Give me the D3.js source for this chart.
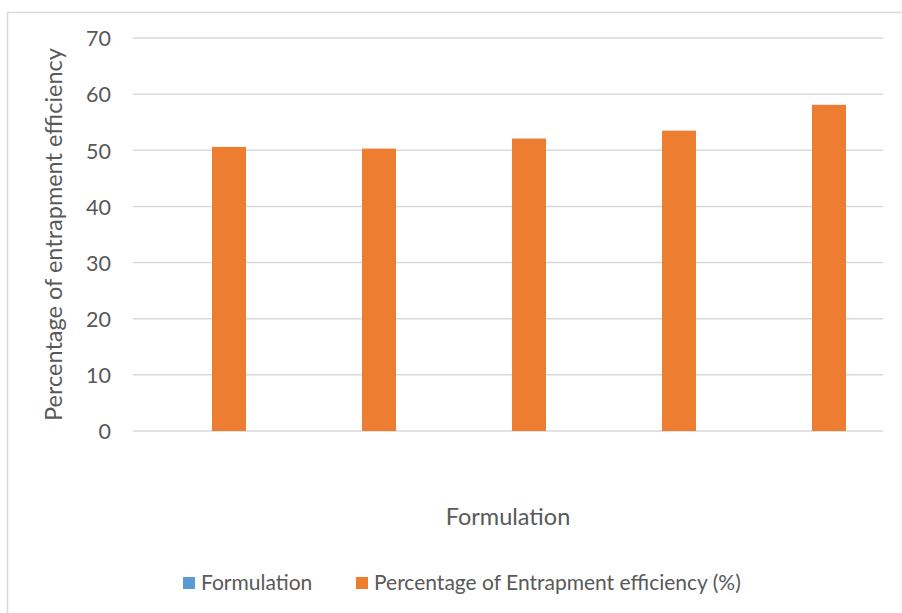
<!DOCTYPE html>
<html>
<head>
<meta charset="utf-8">
<script src="https://cdn.jsdelivr.net/npm/d3@7"></script>
<style>
  html, body { margin: 0; padding: 0; background: #fff; }
  svg { display: block; font-family: Lato, "Liberation Sans", sans-serif; }
</style>
</head>
<body>
<svg id="chart" width="902" height="613"></svg>
<script>
// Formulation batches (no category labels are shown on the axis)
const categories = ["F1", "F2", "F3", "F4", "F5"];
const seriesNames = ["Formulation", "Percentage of Entrapment efficiency (%)"];
const formulationValues = [0, 0, 0, 0, 0];
const entrapmentValues = [50.6, 50.3, 52.1, 53.5, 58.1];
const yTicks = [0, 10, 20, 30, 40, 50, 60, 70];
const seriesColors = ["#5B9BD5", "#ED7D31"];

const svg = d3.select("#chart");
const textColor = "#595959";
const gridColor = "#d9d9d9";

// chart area frame (top and left edges visible)
svg.append("line").attr("x1", 7).attr("x2", 902).attr("y1", 12.5).attr("y2", 12.5)
  .attr("stroke", gridColor).attr("stroke-width", 1.5);
svg.append("line").attr("x1", 7.5).attr("x2", 7.5).attr("y1", 12).attr("y2", 613)
  .attr("stroke", gridColor).attr("stroke-width", 1.5);

const plot = { left: 133, right: 883, top: 38, bottom: 431 };

const y = d3.scaleLinear().domain([0, 70]).range([plot.bottom, plot.top]);
const x0 = d3.scaleBand().domain(categories).range([plot.left, plot.right]).padding(0);
const x1 = d3.scaleBand().domain(seriesNames)
  .range([x0.bandwidth() / 2 - 38, x0.bandwidth() / 2 + 38])
  .paddingInner(0.19).paddingOuter(0);

// gridlines
svg.append("g").selectAll("line").data(yTicks).join("line")
  .attr("x1", plot.left).attr("x2", plot.right)
  .attr("y1", d => y(d)).attr("y2", d => y(d))
  .attr("stroke", gridColor).attr("stroke-width", 1.5);

// y axis tick labels
const yAxis = d3.axisLeft(y).tickValues(yTicks).tickSize(0).tickPadding(0);
const yg = svg.append("g").attr("transform", `translate(111,0)`).call(yAxis);
yg.select(".domain").remove();
yg.selectAll("text").attr("fill", textColor).style("font-size", "21.5px")
  .style("font-family", "Lato, sans-serif").attr("dy", "0.36em");

// bars
const rows = categories.map((c, i) => ({
  cat: c,
  vals: [formulationValues[i], entrapmentValues[i]]
}));
const groups = svg.append("g").selectAll("g").data(rows).join("g")
  .attr("transform", d => `translate(${x0(d.cat)},0)`);
groups.selectAll("rect")
  .data(d => d.vals.map((v, k) => ({ name: seriesNames[k], value: v, k })))
  .join("rect")
  .attr("x", d => x1(d.name))
  .attr("width", x1.bandwidth())
  .attr("y", d => y(d.value))
  .attr("height", d => y(0) - y(d.value))
  .attr("fill", d => seriesColors[d.k]);

// axis titles
svg.append("text")
  .attr("transform", `translate(62,${(plot.top + plot.bottom) / 2}) rotate(-90)`)
  .attr("text-anchor", "middle").attr("fill", textColor)
  .style("font-size", "23.5px")
  .text("Percentage of entrapment efficiency");

svg.append("text")
  .attr("x", (plot.left + plot.right) / 2).attr("y", 525)
  .attr("text-anchor", "middle").attr("fill", textColor)
  .style("font-size", "23.5px")
  .text("Formulation");

// legend
const legendX = [183, 356];
const legend = svg.append("g").selectAll("g").data(seriesNames).join("g")
  .attr("transform", (d, i) => `translate(${legendX[i]},0)`);
legend.append("rect").attr("x", 0).attr("y", 577).attr("width", 12).attr("height", 12)
  .attr("fill", (d, i) => seriesColors[i]);
legend.append("text").attr("x", 18).attr("y", 590).attr("fill", textColor)
  .style("font-size", "21px").text(d => d);
</script>
</body>
</html>
